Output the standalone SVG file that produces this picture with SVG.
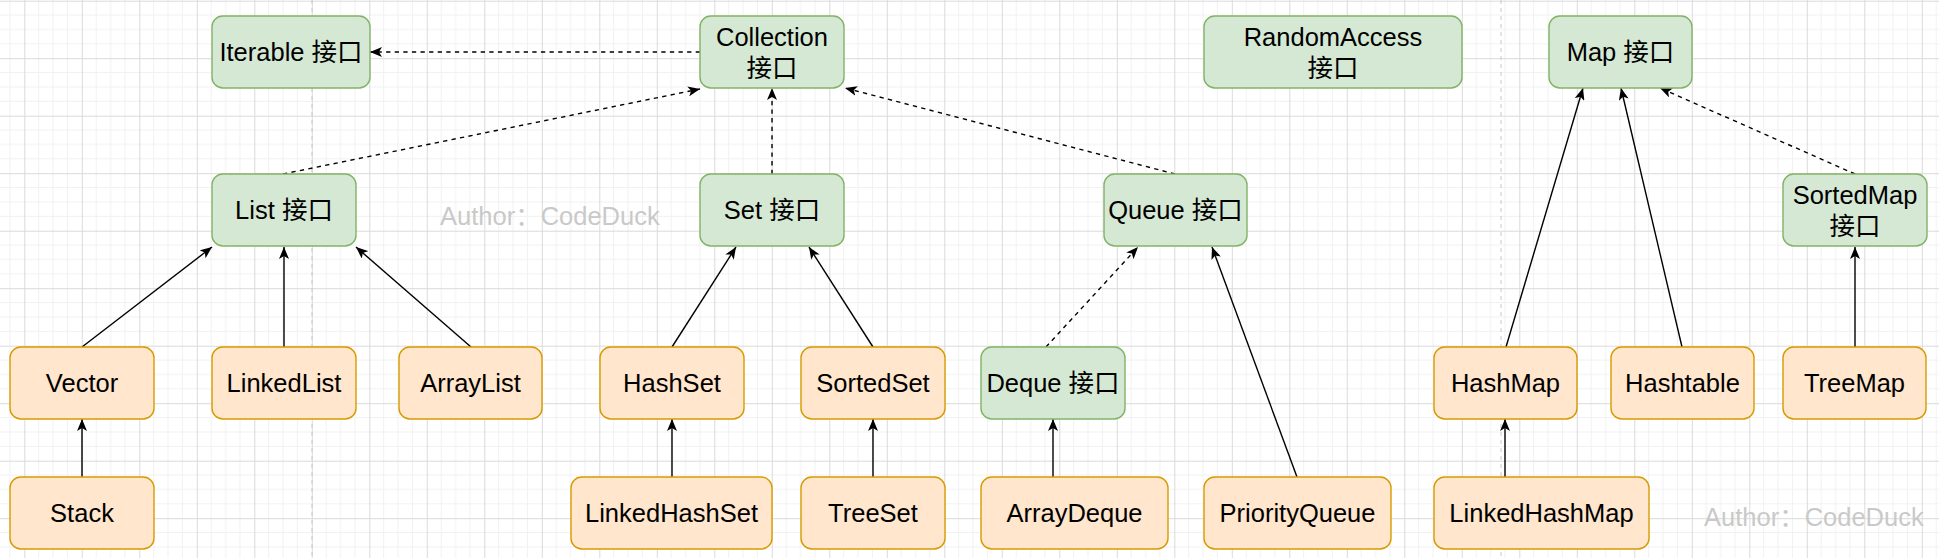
<svg xmlns="http://www.w3.org/2000/svg" width="1939" height="558" viewBox="0 0 1939 558">
  <style>
    .bg { fill: #ffffff; }
    .g rect { fill: #d5e8d4; stroke: #82b366; stroke-width: 1.4; }
    .o rect { fill: #ffe6cc; stroke: #d79b00; stroke-width: 1.4; }
    text { font-family: "Liberation Sans", "Noto Sans CJK SC", Arial, sans-serif; font-size: 25.5px; fill: #000000; text-anchor: middle; }
    .author { fill: #c9c9c9; text-anchor: start; }
    .edge { stroke: #000000; stroke-width: 1.4; fill: none; marker-end: url(#arr); }
    .dash { stroke-dasharray: 4.3 4.3; }
    .sep { stroke: #c8c8c8; stroke-width: 1; stroke-dasharray: 4 4; }
  </style>
  <defs>
    <pattern id="grid" patternUnits="userSpaceOnUse" x="24.3" y="0.7" width="57.5" height="57.5">
      <path d="M14.375,0 V57.5 M28.75,0 V57.5 M43.125,0 V57.5 M0,14.375 H57.5 M0,28.75 H57.5 M0,43.125 H57.5" stroke="#f1f1f1" stroke-width="1" fill="none"/>
      <path d="M0.5,0 V57.5 M0,0.5 H57.5" stroke="#dadada" stroke-width="1" fill="none"/>
    </pattern>
    <marker id="arr" viewBox="0 0 12 10" refX="12" refY="5" markerWidth="12" markerHeight="10" orient="auto" markerUnits="userSpaceOnUse">
      <path d="M0,0 L12,5 L0,10 L3,5 Z" fill="#000000"/>
    </marker>
  </defs>
  <rect class="bg" x="0" y="0" width="1939" height="558"/>
  <rect x="0" y="0" width="1939" height="558" fill="url(#grid)"/>
  <line class="sep" x1="312" y1="0" x2="312" y2="558"/>
  <line class="sep" x1="1501" y1="0" x2="1501" y2="558"/>

  <g id="connectors">
    <path class="edge dash" d="M700,52 L370,52"/>
    <path class="edge dash" d="M283,174 L700,89"/>
    <path class="edge dash" d="M772,174 L772,88"/>
    <path class="edge dash" d="M1175,174 L845,88"/>
    <path class="edge" d="M82,347 L212,247"/>
    <path class="edge" d="M284,347 L284,247"/>
    <path class="edge" d="M471,347 L356,247"/>
    <path class="edge" d="M672,347 L736,247"/>
    <path class="edge" d="M873,347 L809,247"/>
    <path class="edge dash" d="M1046,347 L1138,247"/>
    <path class="edge" d="M1297,477 L1212,247"/>
    <path class="edge" d="M82,477 L82,419"/>
    <path class="edge" d="M672,477 L672,419"/>
    <path class="edge" d="M873,477 L873,419"/>
    <path class="edge" d="M1053,477 L1053,419"/>
    <path class="edge" d="M1505,477 L1505,419"/>
    <path class="edge" d="M1506,347 L1583,88"/>
    <path class="edge" d="M1682,347 L1621,88"/>
    <path class="edge dash" d="M1855,174 L1660,88"/>
    <path class="edge" d="M1855,347 L1855,247"/>
  </g>

  <g id="iterable" class="g"><rect x="212" y="16" width="158" height="72" rx="10.8"/><text x="291" y="61">Iterable 接口</text></g>
  <g id="collection" class="g"><rect x="700" y="16" width="144" height="72" rx="10.8"/><text x="772" y="45.5">Collection</text><text x="772" y="76.5">接口</text></g>
  <g id="randomaccess" class="g"><rect x="1204" y="16" width="258" height="72" rx="10.8"/><text x="1333" y="45.5">RandomAccess</text><text x="1333" y="76.5">接口</text></g>
  <g id="map" class="g"><rect x="1549" y="16" width="143" height="72" rx="10.8"/><text x="1620.5" y="61">Map 接口</text></g>
  <g id="list" class="g"><rect x="212" y="174" width="144" height="72" rx="10.8"/><text x="284" y="219">List 接口</text></g>
  <g id="set" class="g"><rect x="700" y="174" width="144" height="72" rx="10.8"/><text x="772" y="219">Set 接口</text></g>
  <g id="queue" class="g"><rect x="1104" y="174" width="143" height="72" rx="10.8"/><text x="1175.5" y="219">Queue 接口</text></g>
  <g id="sortedmap" class="g"><rect x="1783" y="174" width="144" height="72" rx="10.8"/><text x="1855" y="203.5">SortedMap</text><text x="1855" y="234.5">接口</text></g>
  <g id="deque" class="g"><rect x="981" y="347" width="144" height="72" rx="10.8"/><text x="1053" y="392">Deque 接口</text></g>

  <g id="vector" class="o"><rect x="10" y="347" width="144" height="72" rx="10.8"/><text x="82" y="392">Vector</text></g>
  <g id="linkedlist" class="o"><rect x="212" y="347" width="144" height="72" rx="10.8"/><text x="284" y="392">LinkedList</text></g>
  <g id="arraylist" class="o"><rect x="399" y="347" width="143" height="72" rx="10.8"/><text x="470.5" y="392">ArrayList</text></g>
  <g id="hashset" class="o"><rect x="600" y="347" width="144" height="72" rx="10.8"/><text x="672" y="392">HashSet</text></g>
  <g id="sortedset" class="o"><rect x="801" y="347" width="144" height="72" rx="10.8"/><text x="873" y="392">SortedSet</text></g>
  <g id="hashmap" class="o"><rect x="1434" y="347" width="143" height="72" rx="10.8"/><text x="1505.5" y="392">HashMap</text></g>
  <g id="hashtable" class="o"><rect x="1611" y="347" width="143" height="72" rx="10.8"/><text x="1682.5" y="392">Hashtable</text></g>
  <g id="treemap" class="o"><rect x="1783" y="347" width="143" height="72" rx="10.8"/><text x="1854.5" y="392">TreeMap</text></g>
  <g id="stack" class="o"><rect x="10" y="477" width="144" height="72" rx="10.8"/><text x="82" y="522">Stack</text></g>
  <g id="linkedhashset" class="o"><rect x="571" y="477" width="201" height="72" rx="10.8"/><text x="671.5" y="522">LinkedHashSet</text></g>
  <g id="treeset" class="o"><rect x="801" y="477" width="144" height="72" rx="10.8"/><text x="873" y="522">TreeSet</text></g>
  <g id="arraydeque" class="o"><rect x="981" y="477" width="187" height="72" rx="10.8"/><text x="1074.5" y="522">ArrayDeque</text></g>
  <g id="priorityqueue" class="o"><rect x="1204" y="477" width="187" height="72" rx="10.8"/><text x="1297.5" y="522">PriorityQueue</text></g>
  <g id="linkedhashmap" class="o"><rect x="1434" y="477" width="215" height="72" rx="10.8"/><text x="1541.5" y="522">LinkedHashMap</text></g>

  <text class="author" x="440" y="225">Author：CodeDuck</text>
  <text class="author" x="1704" y="526">Author：CodeDuck</text>
</svg>
